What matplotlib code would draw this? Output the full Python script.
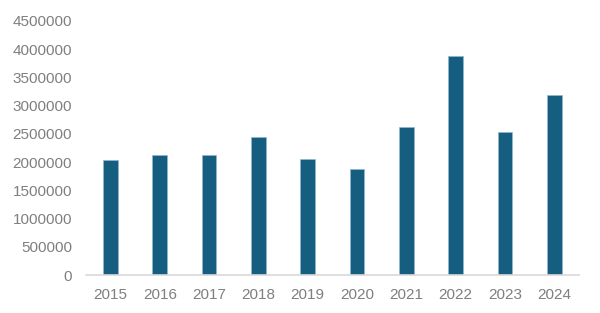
import matplotlib
matplotlib.use("Agg")
import matplotlib.pyplot as plt

# Datos
years = ["2015", "2016", "2017", "2018", "2019", "2020", "2021", "2022", "2023", "2024"]
values = [2040000, 2130000, 2120000, 2450000, 2055000, 1885000, 2615000, 3885000, 2540000, 3195000]
y_ticks = [0, 500000, 1000000, 1500000, 2000000, 2500000, 3000000, 3500000, 4000000, 4500000]

plt.rcParams["font.family"] = ["Liberation Sans", "DejaVu Sans"]

fig = plt.figure(figsize=(6, 3.13), dpi=100)
ax = fig.add_axes([0.143, 0.121, 0.822, 0.812])

x = range(len(years))
ax.bar(x, values, width=0.3, color="#165E80", edgecolor="#8fb8d0", linewidth=0.5, zorder=2)

ax.set_xlim(-0.5, len(years) - 0.5)
ax.set_ylim(0, 4500000)
ax.set_yticks(y_ticks)
ax.set_yticklabels([str(v) for v in y_ticks])
ax.set_xticks(list(x))
ax.set_xticklabels(years)

for side in ["top", "right", "left"]:
    ax.spines[side].set_visible(False)
ax.spines["bottom"].set_color("#d9d9d9")
ax.spines["bottom"].set_linewidth(1.2)

ax.tick_params(axis="both", length=0, labelsize=11, colors="#7f7f7f")
ax.tick_params(axis="x", pad=9)
ax.tick_params(axis="y", pad=10)

fig.savefig("out.png", dpi=100, facecolor="white")
plt.close(fig)
